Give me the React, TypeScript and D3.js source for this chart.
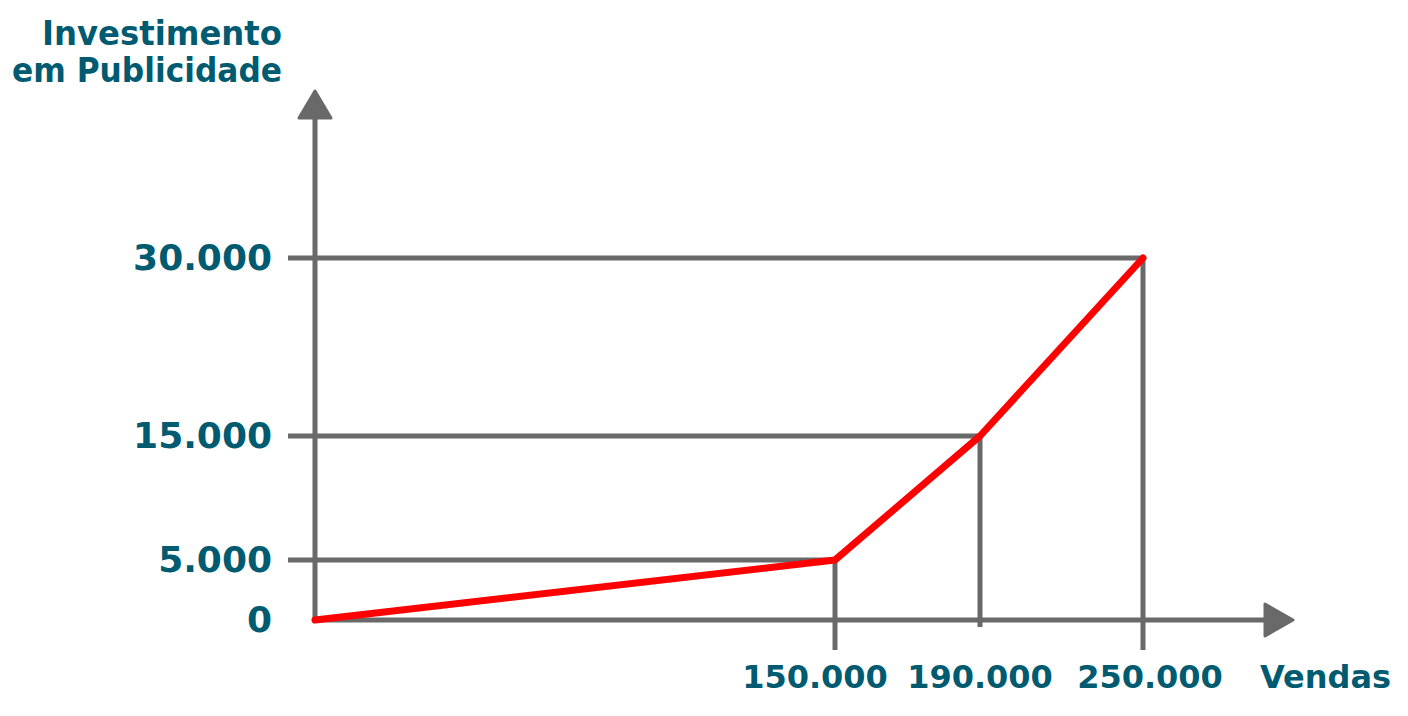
import React from "react";
import * as d3 from "d3";

// data
const salesTicks = [150000, 190000, 250000];
const investTicks = [5000, 15000, 30000];
const curve = [
  { vendas: 0, invest: 0 },
  { vendas: 150000, invest: 5000 },
  { vendas: 190000, invest: 15000 },
  { vendas: 250000, invest: 30000 },
];
const yTitle = ["Investimento", "em Publicidade"];
const xTitle = "Vendas";

const width = 1408;
const height = 716;
const grey = "#696969";
const teal = "#005a70";
const font = "'DejaVu Sans', Verdana, sans-serif";

// axes are not to scale in the original, so piecewise scales
const x = d3.scaleLinear().domain([0, 150000, 190000, 250000]).range([315, 835, 980, 1143]);
const y = d3.scaleLinear().domain([0, 5000, 15000, 30000]).range([620, 560, 436, 258]);

// small layout tweaks per tick (drop line bottom, label shift)
const tickBottom = [650, 627, 650];
const labelShift = [-20, 0, 7];
const titleWidths = [240, 270];

const fmt = (v: number) => d3.format(",")(v).replace(/,/g, ".");

export default function App() {
  const line = d3
    .line<{ vendas: number; invest: number }>()
    .x((d) => x(d.vendas))
    .y((d) => y(d.invest));

  const x0 = x(0);
  const y0 = y(0);

  return (
    <svg width={width} height={height} style={{ display: "block", position: "absolute", left: 0, top: 0 }}>
      <rect width={width} height={height} fill="#fff" />

      {/* guide lines for y values */}
      {investTicks.map((v) => {
        // each horizontal goes to the matching sales tick
        const pt = curve.find((c) => c.invest === v)!;
        return (
          <line key={"h" + v} x1={288} x2={x(pt.vendas)} y1={y(v)} y2={y(v)} stroke={grey} strokeWidth={5} />
        );
      })}
      {salesTicks.map((v, i) => {
        const pt = curve.find((c) => c.vendas === v)!;
        return (
          <line key={"v" + v} x1={x(v)} x2={x(v)} y1={y(pt.invest)} y2={tickBottom[i]} stroke={grey} strokeWidth={5} />
        );
      })}

      {/* axes */}
      <line x1={x0} x2={x0} y1={y0} y2={118} stroke={grey} strokeWidth={5} />
      <line x1={x0} x2={1266} y1={y0} y2={y0} stroke={grey} strokeWidth={5} />
      <path
        d={`M${x0},91 L${x0 + 16},118 L${x0 - 16},118 Z`}
        fill={grey}
        stroke={grey}
        strokeWidth={3}
        strokeLinejoin="round"
      />
      <path
        d={`M1293,${y0} L1265,${y0 - 16} L1265,${y0 + 16} Z`}
        fill={grey}
        stroke={grey}
        strokeWidth={3}
        strokeLinejoin="round"
      />

      {/* the curve */}
      <path d={line(curve)!} fill="none" stroke="#ff0000" strokeWidth={7} strokeLinecap="round" strokeLinejoin="round" />

      {/* y labels */}
      {[0, ...investTicks].map((v) => (
        <text
          key={"yl" + v}
          x={272}
          y={y(v) + 12}
          textAnchor="end"
          fontFamily={font}
          fontWeight="bold"
          fontSize={36}
          fill={teal}
        >
          {fmt(v)}
        </text>
      ))}

      {/* x labels */}
      {salesTicks.map((v, i) => (
        <text
          key={"xl" + v}
          x={x(v) + labelShift[i]}
          y={688}
          textAnchor="middle"
          fontFamily={font}
          fontWeight="bold"
          fontSize={32}
          fill={teal}
        >
          {fmt(v)}
        </text>
      ))}

      <text x={1260} y={688} fontFamily={font} fontWeight="bold" fontSize={32} fill={teal}>
        {xTitle}
      </text>
      {yTitle.map((t, i) => (
        <text
          key={t}
          x={282 - titleWidths[i]}
          y={45 + i * 37}
          textLength={titleWidths[i]}
          lengthAdjust="spacingAndGlyphs"
          fontFamily={font}
          fontWeight="bold"
          fontSize={33}
          fill={teal}
        >
          {t}
        </text>
      ))}
    </svg>
  );
}
